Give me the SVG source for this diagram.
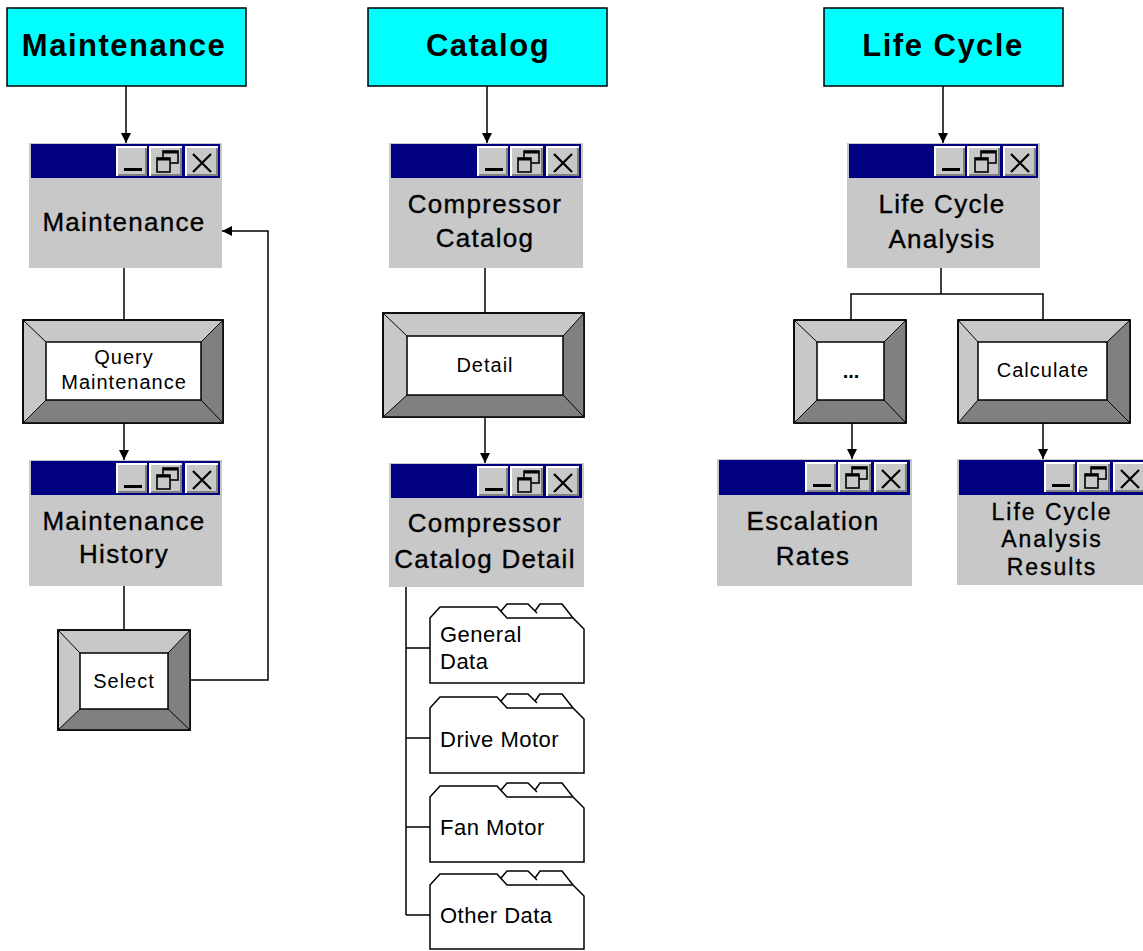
<svg xmlns="http://www.w3.org/2000/svg" xmlns:xlink="http://www.w3.org/1999/xlink" width="1143" height="951" viewBox="0 0 1143 951">
<style>
.hdr{fill:#00ffff;stroke:#000;stroke-width:1.5}
.ht{font-family:"Liberation Sans",Arial,sans-serif;font-weight:bold;font-size:31px;letter-spacing:1.5px;text-anchor:middle;fill:#000}
.win{fill:#c8c8c8}
.tb{fill:#000080}
.wt{font-family:"Liberation Sans",Arial,sans-serif;font-size:26px;letter-spacing:1.3px;text-anchor:middle;fill:#000;stroke:#000;stroke-width:0.35}
.wts{font-size:23px;letter-spacing:2px}
.bt{font-family:"Liberation Sans",Arial,sans-serif;font-size:20px;letter-spacing:1px;text-anchor:middle;fill:#000}
.ft{font-family:"Liberation Sans",Arial,sans-serif;font-size:22px;letter-spacing:0.5px;fill:#000}
.lt{fill:#c8c8c8;stroke:#000;stroke-width:1.5}
.ol{fill:none;stroke:#000;stroke-width:1.5}
.dk{fill:#808080}
.dg{stroke:#000;stroke-width:1;fill:none}
.in{fill:#fff;stroke:#000;stroke-width:1.5}
.cn{fill:none;stroke:#000;stroke-width:1.5}
.fo{fill:#fff;stroke:#000;stroke-width:1.5;stroke-linejoin:miter}
.tab{fill:none;stroke:#000;stroke-width:1.5}
.tbtn{fill:#c8c8c8}
</style>
<defs>
<marker id="ah" viewBox="0 0 10 10" refX="10" refY="5" markerWidth="10" markerHeight="10" markerUnits="userSpaceOnUse" orient="auto">
<path d="M0,0 L10,5 L0,10 z" fill="#000"/>
</marker>
<g id="tbtns">
<rect class="tbtn" x="0" y="0" width="30" height="29"/>
<path d="M0,29 V0 H30" stroke="#fff" stroke-width="2" fill="none"/>
<path d="M1,28 H29 V1" stroke="#808080" stroke-width="2" fill="none"/>
<rect x="7" y="21" width="18" height="3" fill="#000"/>
<rect class="tbtn" x="33" y="0" width="32" height="29"/>
<path d="M33,29 V0 H65" stroke="#fff" stroke-width="2" fill="none"/>
<path d="M34,28 H64 V1" stroke="#808080" stroke-width="2" fill="none"/>
<rect x="46" y="4" width="15" height="12" fill="none" stroke="#000" stroke-width="1.6"/>
<rect x="46" y="4" width="15" height="2.5" fill="#000"/>
<rect x="40" y="11" width="13" height="14" fill="#c8c8c8" stroke="#000" stroke-width="1.6"/>
<rect x="40" y="11" width="13" height="2.5" fill="#000"/>
<rect class="tbtn" x="69" y="0" width="32" height="29"/>
<path d="M69,29 V0 H101" stroke="#fff" stroke-width="2" fill="none"/>
<path d="M70,28 H100 V1" stroke="#808080" stroke-width="2" fill="none"/>
<path d="M76,7 L94,25 M94,7 L76,25" stroke="#000" stroke-width="2.2"/>
</g>
</defs>
<rect width="1143" height="951" fill="#fff"/>

<g id="connectors">
<path class="cn" d="M126,86 V143" marker-end="url(#ah)"/>
<path class="cn" d="M124,268 V320"/>
<path class="cn" d="M124,423 V460" marker-end="url(#ah)"/>
<path class="cn" d="M124,586 V630"/>
<path class="cn" d="M190,680 H268 V231 H222" marker-end="url(#ah)"/>
<path class="cn" d="M487,86 V143" marker-end="url(#ah)"/>
<path class="cn" d="M485,268 V313"/>
<path class="cn" d="M485,417 V463" marker-end="url(#ah)"/>
<path class="cn" d="M406,587 V915 M406,648 H430 M406,738 H430 M406,827 H430 M406,915 H430"/>
<path class="cn" d="M943,86 V143" marker-end="url(#ah)"/>
<path class="cn" d="M941,268 V294 M851,320 V294 H1043 V320"/>
<path class="cn" d="M852,423 V459" marker-end="url(#ah)"/>
<path class="cn" d="M1043,423 V459" marker-end="url(#ah)"/>
</g>

<g id="hdr-maintenance">
<rect class="hdr" x="7" y="8" width="239" height="78"/>
<text class="ht" x="124" y="56">Maintenance</text>
</g>
<g id="hdr-catalog">
<rect class="hdr" x="368" y="8" width="239" height="78"/>
<text class="ht" x="488" y="56">Catalog</text>
</g>
<g id="hdr-lifecycle">
<rect class="hdr" x="824" y="8" width="239" height="78"/>
<text class="ht" x="943" y="56">Life Cycle</text>
</g>

<g id="win-maintenance" transform="translate(29,143)">
<rect class="win" width="193" height="125"/>
<rect class="tb" x="2" y="1" width="189" height="34"/>
<use xlink:href="#tbtns" x="88" y="4"/>
<text class="wt" x="95" y="88">Maintenance</text>
</g>
<g id="win-history" transform="translate(29,460)">
<rect class="win" width="193" height="126"/>
<rect class="tb" x="2" y="1" width="189" height="34"/>
<use xlink:href="#tbtns" x="88" y="4"/>
<text class="wt" x="95" y="70">Maintenance</text>
<text class="wt" x="95" y="103">History</text>
</g>
<g id="win-catalog" transform="translate(389,143)">
<rect class="win" width="194" height="125"/>
<rect class="tb" x="2" y="1" width="190" height="34"/>
<use xlink:href="#tbtns" x="89" y="4"/>
<text class="wt" x="96" y="70">Compressor</text>
<text class="wt" x="96" y="104">Catalog</text>
</g>
<g id="win-catalog-detail" transform="translate(389,463)">
<rect class="win" width="195" height="124"/>
<rect class="tb" x="2" y="1" width="191" height="34"/>
<use xlink:href="#tbtns" x="89" y="4"/>
<text class="wt" x="96" y="69">Compressor</text>
<text class="wt" x="96" y="105">Catalog Detail</text>
</g>
<g id="win-lca" transform="translate(847,143)">
<rect class="win" width="193" height="125"/>
<rect class="tb" x="2" y="1" width="189" height="34"/>
<use xlink:href="#tbtns" x="88" y="4"/>
<text class="wt" x="95" y="70">Life Cycle</text>
<text class="wt" x="95" y="105">Analysis</text>
</g>
<g id="win-escalation" transform="translate(717,459)">
<rect class="win" width="195" height="127"/>
<rect class="tb" x="2" y="1" width="191" height="35"/>
<use xlink:href="#tbtns" x="89" y="4"/>
<text class="wt" x="96" y="71">Escalation</text>
<text class="wt" x="96" y="106">Rates</text>
</g>
<g id="win-results" transform="translate(957,459)">
<rect class="win" width="195" height="126"/>
<rect class="tb" x="2" y="1" width="191" height="35"/>
<use xlink:href="#tbtns" x="88" y="4"/>
<text class="wt wts" x="95" y="61">Life Cycle</text>
<text class="wt wts" x="95" y="88">Analysis</text>
<text class="wt wts" x="95" y="116">Results</text>
</g>

<g id="btn-query">
<rect class="lt" x="23" y="320" width="200" height="103"/>
<path class="dk" d="M223,320 V423 H23 L46,400 H201 V342 Z"/>
<path class="dg" d="M23,320 L46,342 M223,320 L201,342 M23,423 L46,400 M223,423 L201,400"/>
<rect class="ol" x="23" y="320" width="200" height="103"/>
<rect class="in" x="46" y="342" width="155" height="58"/>
<text class="bt" x="124" y="364">Query</text>
<text class="bt" x="124" y="389">Maintenance</text>
</g>
<g id="btn-select">
<rect class="lt" x="58" y="630" width="132" height="100"/>
<path class="dk" d="M190,630 V730 H58 L80,709 H168 V653 Z"/>
<path class="dg" d="M58,630 L80,653 M190,630 L168,653 M58,730 L80,709 M190,730 L168,709"/>
<rect class="ol" x="58" y="630" width="132" height="100"/>
<rect class="in" x="80" y="653" width="88" height="56"/>
<text class="bt" x="124" y="688">Select</text>
</g>
<g id="btn-detail">
<rect class="lt" x="383" y="313" width="201" height="104"/>
<path class="dk" d="M584,313 V417 H383 L407,395 H563 V336 Z"/>
<path class="dg" d="M383,313 L407,336 M584,313 L563,336 M383,417 L407,395 M584,417 L563,395"/>
<rect class="ol" x="383" y="313" width="201" height="104"/>
<rect class="in" x="407" y="336" width="156" height="59"/>
<text class="bt" x="485" y="372">Detail</text>
</g>
<g id="btn-more">
<rect class="lt" x="794" y="320" width="112" height="103"/>
<path class="dk" d="M906,320 V423 H794 L817,400 H884 V342 Z"/>
<path class="dg" d="M794,320 L817,342 M906,320 L884,342 M794,423 L817,400 M906,423 L884,400"/>
<rect class="ol" x="794" y="320" width="112" height="103"/>
<rect class="in" x="817" y="342" width="67" height="58"/>
<text class="bt" x="851" y="378" style="font-weight:bold;letter-spacing:0">...</text>
</g>
<g id="btn-calculate">
<rect class="lt" x="958" y="320" width="172" height="103"/>
<path class="dk" d="M1130,320 V423 H958 L978,400 H1107 V342 Z"/>
<path class="dg" d="M958,320 L978,342 M1130,320 L1107,342 M958,423 L978,400 M1130,423 L1107,400"/>
<rect class="ol" x="958" y="320" width="172" height="103"/>
<rect class="in" x="978" y="342" width="129" height="58"/>
<text class="bt" x="1043" y="377">Calculate</text>
</g>

<g id="folder-general" transform="translate(0,604)">
<path class="fo" d="M430,14 L440,3 H497 L507,14 H573 L584,25 V79 H430 Z"/>
<path class="tab" d="M501,7 L507,0 H528 L537,9 M535,7 L540,0 H562 L573,14"/>
<text class="ft" x="440" y="38">General</text>
<text class="ft" x="440" y="65">Data</text>
</g>
<g id="folder-drive" transform="translate(0,694)">
<path class="fo" d="M430,14 L440,3 H497 L507,14 H573 L584,25 V79 H430 Z"/>
<path class="tab" d="M501,7 L507,0 H528 L537,9 M535,7 L540,0 H562 L573,14"/>
<text class="ft" x="440" y="53">Drive Motor</text>
</g>
<g id="folder-fan" transform="translate(0,783)">
<path class="fo" d="M430,14 L440,3 H497 L507,14 H573 L584,25 V79 H430 Z"/>
<path class="tab" d="M501,7 L507,0 H528 L537,9 M535,7 L540,0 H562 L573,14"/>
<text class="ft" x="440" y="52">Fan Motor</text>
</g>
<g id="folder-other" transform="translate(0,871)">
<path class="fo" d="M430,14 L440,3 H497 L507,14 H573 L584,25 V78 H430 Z"/>
<path class="tab" d="M501,7 L507,0 H528 L537,9 M535,7 L540,0 H562 L573,14"/>
<text class="ft" x="440" y="52">Other Data</text>
</g>
</svg>
